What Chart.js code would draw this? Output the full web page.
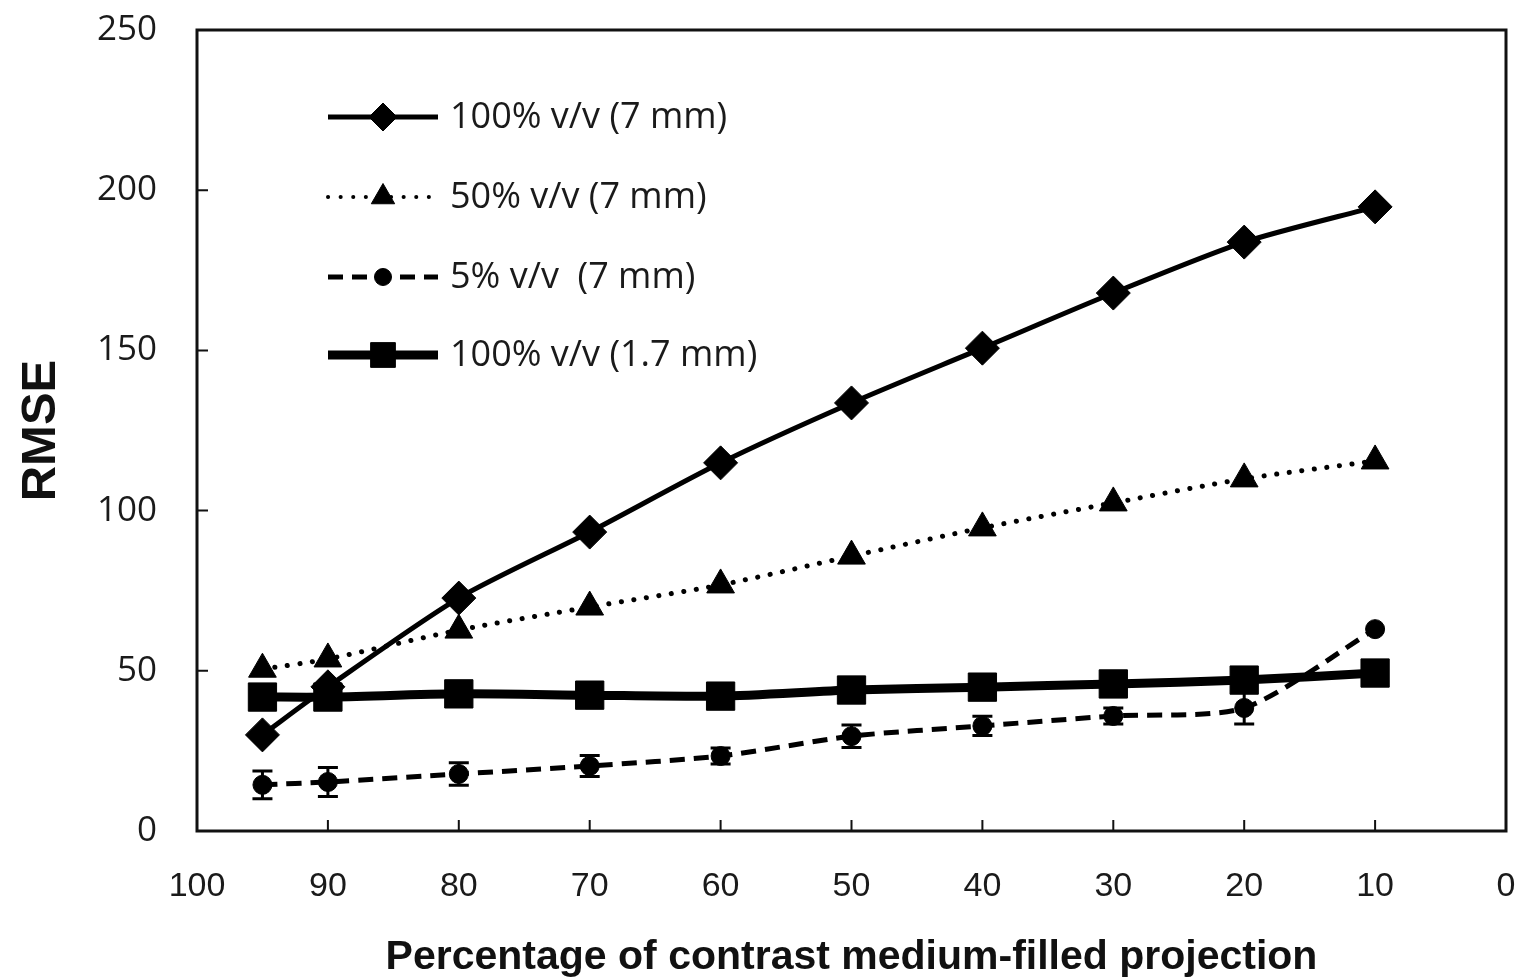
<!DOCTYPE html>
<html>
<head>
<meta charset="utf-8">
<script src="https://cdn.jsdelivr.net/npm/chart.js@4/dist/chart.umd.min.js"></script>
<style>
html,body{margin:0;padding:0;background:#fff;}
#wrap{width:1522px;height:977px;position:relative;}
</style>
</head>
<body>
<div id="wrap"><canvas id="c"></canvas></div>
<script>
// ---- data ----
const xValues = [95, 90, 80, 70, 60, 50, 40, 30, 20, 10];
const xTicks = [100, 90, 80, 70, 60, 50, 40, 30, 20, 10, 0];
const yTicks = [0, 50, 100, 150, 200, 250];
const seriesLabels = ['100% v/v (7 mm)', '50% v/v (7 mm)', '5% v/v  (7 mm)', '100% v/v (1.7 mm)'];
const rmse100_7mm = [30.0, 45.0, 72.7, 93.3, 114.9, 133.6, 150.7, 167.9, 183.8, 194.8];
const rmse50_7mm = [50.5, 53.7, 62.7, 69.9, 76.8, 85.8, 94.6, 102.4, 109.9, 115.5];
const rmse5_7mm = [14.4, 15.3, 17.8, 20.3, 23.4, 29.6, 32.8, 35.9, 38.4, 63.0];
const rmse5_7mmErr = [4.3, 4.5, 3.5, 3.3, 2.5, 3.5, 3.0, 2.5, 5.0, 0];
const rmse100_1_7mm = [41.8, 41.8, 42.8, 42.4, 42.1, 44.0, 44.9, 45.9, 47.1, 49.3];

const toPts = arr => xValues.map((x, i) => ({x: x, y: arr[i]}));

const datasets = [
  {label: seriesLabels[0], data: toPts(rmse100_7mm), borderColor: '#000', backgroundColor: '#000',
   borderWidth: 5, pointStyle: 'rectRot', pointRadius: 17, legendRadius: 14, order: 2},
  {label: seriesLabels[1], data: toPts(rmse50_7mm), borderColor: '#000', backgroundColor: '#000',
   borderWidth: 5, borderDash: [0.1, 12.5], borderCapStyle: 'round', pointStyle: 'triangle', pointRadius: 16, legendRadius: 13.5, legendWidth: 4, order: 3},
  {label: seriesLabels[2], data: toPts(rmse5_7mm), borderColor: '#000', backgroundColor: '#000',
   borderWidth: 5, borderDash: [15, 9], pointStyle: 'circle', pointRadius: 9.5, legendRadius: 8.5, errors: rmse5_7mmErr, order: 4},
  {label: seriesLabels[3], data: toPts(rmse100_1_7mm), borderColor: '#000', backgroundColor: '#000',
   borderWidth: 9, pointStyle: 'rect', pointRadius: 20, legendRadius: 17.5, order: 1}
];
datasets.forEach(d => { d.showLine = true; d.tension = 0.25; d.pointBorderWidth = 1; d.fill = false; });

const framePlugin = {
  id: 'frame',
  beforeDatasetsDraw(chart) {
    const {ctx, scales} = chart;
    ctx.save();
    chart.data.datasets.forEach(ds => {
      if (!ds.errors) return;
      ctx.strokeStyle = '#000';
      ctx.lineWidth = 3;
      ctx.setLineDash([]);
      ds.data.forEach((p, i) => {
        const e = ds.errors[i];
        if (!e) return;
        const px = scales.x.getPixelForValue(p.x);
        const y1 = scales.y.getPixelForValue(p.y + e);
        const y2 = scales.y.getPixelForValue(p.y - e);
        ctx.beginPath();
        ctx.moveTo(px, y1); ctx.lineTo(px, y2);
        ctx.moveTo(px - 10, y1); ctx.lineTo(px + 10, y1);
        ctx.moveTo(px - 10, y2); ctx.lineTo(px + 10, y2);
        ctx.stroke();
      });
    });
    ctx.restore();
  },
  afterDraw(chart) {
    const {ctx, chartArea: a, scales} = chart;
    ctx.save();
    ctx.strokeStyle = '#111';
    ctx.lineWidth = 3;
    ctx.setLineDash([]);
    ctx.strokeRect(a.left, a.top, a.right - a.left, a.bottom - a.top);
    ctx.lineWidth = 2;
    ctx.beginPath();
    scales.y.ticks.forEach(t => {
      if (t.value <= 0 || t.value >= 250) return;
      const y = scales.y.getPixelForValue(t.value);
      ctx.moveTo(a.left, y); ctx.lineTo(a.left + 11, y);
    });
    scales.x.ticks.forEach(t => {
      if (t.value <= 0 || t.value >= 100) return;
      const x = scales.x.getPixelForValue(t.value);
      ctx.moveTo(x, a.bottom); ctx.lineTo(x, a.bottom - 11);
    });
    ctx.stroke();

    // legend
    const rows = [117, 197, 277, 355];
    const x0 = 328, x1 = 438, xm = 383, tx = 450;
    chart.data.datasets.forEach((ds, i) => {
      const y = rows[i];
      ctx.strokeStyle = '#000';
      ctx.lineWidth = ds.legendWidth || ds.borderWidth;
      ctx.lineCap = ds.borderCapStyle || 'butt';
      ctx.setLineDash(ds.borderDash || []);
      ctx.beginPath();
      ctx.moveTo(x0, y); ctx.lineTo(x1, y);
      ctx.stroke();
      ctx.setLineDash([]);
      ctx.lineCap = 'butt';
      ctx.fillStyle = '#000';
      ctx.lineWidth = 1;
      Chart.helpers.drawPoint(ctx, {pointStyle: ds.pointStyle, radius: ds.legendRadius, rotation: 0, borderWidth: 1}, xm, y);
      ctx.font = '36px "Open Sans"';
      ctx.fillStyle = '#1a1a1a';
      ctx.textBaseline = 'middle';
      ctx.textAlign = 'left';
      ctx.fillText(ds.label, tx, y + 1);
    });
    ctx.restore();
  }
};

new Chart(document.getElementById('c'), {
  type: 'scatter',
  data: {datasets: datasets},
  plugins: [framePlugin],
  options: {
    responsive: true,
    maintainAspectRatio: false,
    animation: false,
    layout: {autoPadding: false, padding: {top: 30, right: 16, left: 0, bottom: 0}},
    plugins: {legend: {display: false}, tooltip: {enabled: false}},
    scales: {
      x: {
        type: 'linear', reverse: true, min: 0, max: 100,
        afterBuildTicks: s => { s.ticks = xTicks.map(v => ({value: v})); },
        ticks: {font: {family: '"Liberation Sans", Arial', size: 34}, color: '#1a1a1a', padding: 35, maxRotation: 0},
        grid: {display: false, drawTicks: false},
        border: {display: false},
        title: {display: true, text: 'Percentage of contrast medium-filled projection',
          font: {family: '"Liberation Sans", Arial', size: 41, weight: 'bold', lineHeight: 0.95}, color: '#111', padding: {top: 0, bottom: 0}},
        afterFit: s => { s.height = 146; s.paddingLeft = 0; s.paddingRight = 0; }
      },
      y: {
        type: 'linear', min: 0, max: 250,
        afterBuildTicks: s => { s.ticks = yTicks.map(v => ({value: v})); },
        ticks: {font: {family: '"Open Sans"', size: 35}, color: '#1a1a1a', padding: 40},
        grid: {display: false, drawTicks: false},
        border: {display: false},
        title: {display: true, text: 'RMSE', font: {family: '"Liberation Sans", Arial', size: 49, weight: 'bold'}, color: '#111', padding: {top: 12, bottom: 0}},
        afterFit: s => { s.width = 197; s.paddingTop = 0; s.paddingBottom = 0; }
      }
    }
  }
});
</script>
</body>
</html>
